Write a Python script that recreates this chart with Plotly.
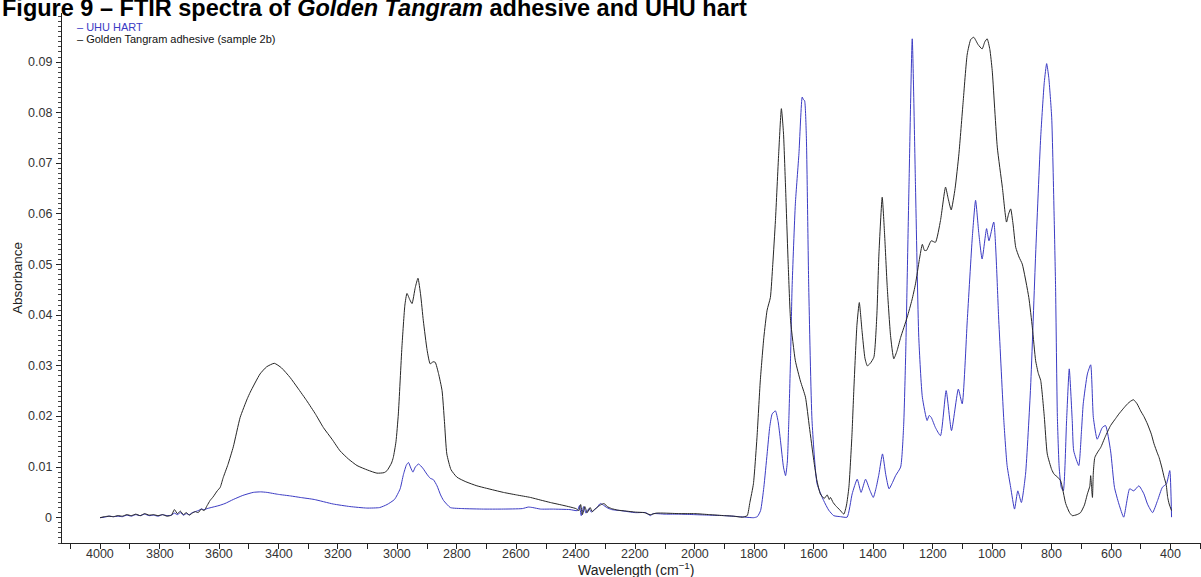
import plotly.graph_objects as go

# FTIR absorbance spectra: wavenumber (cm-1) and absorbance for each sample
uhu_wn = [4000, 3985, 3970, 3955, 3940, 3925, 3910, 3895, 3880, 3865, 3850, 3835, 3820, 3805,
          3790, 3775, 3760, 3750, 3740, 3730, 3720, 3710, 3700, 3690, 3680, 3670, 3660, 3650,
          3640, 3620, 3600, 3580, 3552, 3520, 3485, 3460, 3439, 3400, 3360, 3327, 3280, 3216,
          3160, 3103, 3060, 3035, 3010, 2991, 2980, 2970, 2963, 2955, 2948, 2940, 2929, 2915,
          2901, 2890, 2879, 2867, 2855, 2845, 2822, 2780, 2711, 2650, 2580, 2560, 2545, 2519,
          2480, 2420, 2395, 2388, 2382, 2374, 2366, 2356, 2348, 2338, 2328, 2318, 2308, 2296,
          2280, 2250, 2200, 2165, 2150, 2140, 2100, 2050, 2000, 1950, 1900, 1850, 1802, 1790,
          1779, 1768, 1757, 1748, 1740, 1729, 1720, 1712, 1702, 1695, 1689, 1684, 1678, 1673,
          1662, 1650, 1639, 1635, 1631, 1625, 1617, 1606, 1589, 1567, 1550, 1533, 1510, 1488,
          1471, 1454, 1441, 1426, 1412, 1400, 1390, 1381, 1369, 1358, 1347, 1335, 1325, 1308,
          1298, 1291, 1280, 1269, 1258, 1247, 1235, 1219, 1212, 1205, 1191, 1174, 1155, 1137,
          1114, 1101, 1084, 1067, 1056, 1045, 1034, 1019, 1011, 995, 978, 961, 950, 938, 925,
          914, 902, 888, 871, 854, 837, 825, 817, 810, 800, 792, 787, 781, 775, 768, 761, 750,
          741, 731, 726, 709, 700, 694, 680, 669, 660, 647, 630, 619, 602, 589, 574, 558, 538,
          524, 507, 490, 478, 461, 444, 428, 414, 403, 397]
uhu_abs = [0.0000, 0.0001, 0.0003, 0.0002, 0.0003, 0.0002, 0.0005, 0.0003, 0.0006, 0.0004,
           0.0007, 0.0004, 0.0005, 0.0003, 0.0006, 0.0004, 0.0005, 0.0009, 0.0006, 0.0010,
           0.0005, 0.0008, 0.0006, 0.0010, 0.0012, 0.0014, 0.0017, 0.0016, 0.0018, 0.0021,
           0.0024, 0.0028, 0.0036, 0.0044, 0.0050, 0.0051, 0.0050, 0.0046, 0.0043, 0.0040,
           0.0036, 0.0027, 0.0022, 0.0019, 0.0020, 0.0026, 0.0036, 0.0057, 0.0085, 0.0104,
           0.0109, 0.0098, 0.0090, 0.0100, 0.0106, 0.0098, 0.0086, 0.0078, 0.0075, 0.0063,
           0.0045, 0.0034, 0.0020, 0.0018, 0.0017, 0.0017, 0.0018, 0.0021, 0.0020, 0.0017,
           0.0017, 0.0016, 0.0014, 0.0024, 0.0004, 0.0022, 0.0009, 0.0018, 0.0011, 0.0016,
           0.0021, 0.0028, 0.0025, 0.0020, 0.0016, 0.0014, 0.0010, 0.0010, 0.0004, 0.0008,
           0.0007, 0.0007, 0.0006, 0.0005, 0.0004, 0.0002, 0.0000, 0.0002, 0.0014, 0.0060,
           0.0126, 0.0180, 0.0205, 0.0211, 0.0190, 0.0152, 0.0100, 0.0083, 0.0110, 0.0192,
           0.0320, 0.0455, 0.0620, 0.0719, 0.0831, 0.0826, 0.0824, 0.0752, 0.0455, 0.0192,
           0.0067, 0.0034, 0.0015, 0.0004, 0.0002, 0.0001, 0.0047, 0.0076, 0.0050, 0.0076,
           0.0055, 0.0040, 0.0060, 0.0086, 0.0126, 0.0085, 0.0057, 0.0070, 0.0083, 0.0100,
           0.0180, 0.0323, 0.0653, 0.0946, 0.0653, 0.0356, 0.0238, 0.0192, 0.0202, 0.0198,
           0.0178, 0.0162, 0.0251, 0.0172, 0.0254, 0.0225, 0.0389, 0.0554, 0.0627, 0.0561,
           0.0511, 0.0571, 0.0547, 0.0584, 0.0389, 0.0192, 0.0103, 0.0060, 0.0017, 0.0053,
           0.0030, 0.0086, 0.0258, 0.0521, 0.0752, 0.0860, 0.0897, 0.0870, 0.0790, 0.0600,
           0.0455, 0.0200, 0.0100, 0.0060, 0.0053, 0.0192, 0.0294, 0.0192, 0.0132, 0.0103,
           0.0170, 0.0225, 0.0284, 0.0302, 0.0198, 0.0155, 0.0178, 0.0182, 0.0132, 0.0060,
           0.0027, 0.0001, 0.0057, 0.0053, 0.0063, 0.0047, 0.0027, 0.0010, 0.0034, 0.0060,
           0.0067, 0.0093, 0.0001]

gt_wn = [4000, 3985, 3970, 3955, 3940, 3925, 3910, 3895, 3880, 3865, 3850, 3835, 3820, 3805,
         3790, 3775, 3760, 3750, 3740, 3730, 3720, 3710, 3700, 3690, 3680, 3670, 3660, 3650,
         3640, 3630, 3620, 3606, 3596, 3586, 3570, 3552, 3529, 3505, 3495, 3462, 3440, 3414,
         3390, 3361, 3335, 3305, 3275, 3249, 3220, 3193, 3165, 3136, 3100, 3069, 3045, 3035,
         3020, 3014, 3005, 2997, 2985, 2975, 2968, 2958, 2951, 2940, 2931, 2922, 2913, 2900,
         2890, 2880, 2873, 2862, 2850, 2842, 2834, 2820, 2800, 2770, 2733, 2700, 2644, 2600,
         2553, 2520, 2486, 2440, 2400, 2390, 2384, 2378, 2370, 2362, 2352, 2345, 2335, 2325,
         2315, 2305, 2295, 2280, 2260, 2230, 2200, 2170, 2150, 2130, 2100, 2050, 2000, 1950,
         1900, 1870, 1841, 1824, 1815, 1803, 1791, 1780, 1768, 1757, 1746, 1738, 1729, 1718,
         1709, 1702, 1695, 1686, 1678, 1662, 1645, 1628, 1615, 1600, 1590, 1578, 1565, 1555,
         1548, 1544, 1535, 1527, 1512, 1499, 1490, 1482, 1472, 1465, 1455, 1447, 1438, 1428,
         1420, 1410, 1398, 1388, 1381, 1370, 1362, 1353, 1342, 1331, 1320, 1308, 1286, 1270,
         1258, 1245, 1235, 1228, 1221, 1205, 1191, 1174, 1157, 1148, 1138, 1125, 1112, 1098,
         1084, 1072, 1062, 1048, 1034, 1025, 1017, 1008, 1000, 983, 966, 952, 945, 938, 930,
         921, 910, 899, 877, 865, 854, 845, 837, 825, 815, 800, 792, 780, 770, 753, 740, 731,
         715, 703, 690, 680, 672, 669, 666, 663, 660, 655, 645, 635, 620, 602, 585, 574, 560,
         545, 535, 525, 513, 501, 490, 478, 465, 456, 445, 439, 430, 422, 415, 410, 405, 397]
gt_abs = [0.0000, 0.0002, 0.0003, 0.0002, 0.0004, 0.0003, 0.0006, 0.0004, 0.0007, 0.0004,
          0.0008, 0.0005, 0.0006, 0.0004, 0.0006, 0.0003, 0.0005, 0.0016, 0.0008, 0.0013,
          0.0006, 0.0010, 0.0005, 0.0009, 0.0012, 0.0010, 0.0017, 0.0014, 0.0024, 0.0034,
          0.0041, 0.0053, 0.0060, 0.0079, 0.0105, 0.0140, 0.0198, 0.0235, 0.0248, 0.0284,
          0.0298, 0.0305, 0.0296, 0.0277, 0.0256, 0.0231, 0.0204, 0.0178, 0.0155, 0.0132,
          0.0116, 0.0103, 0.0094, 0.0088, 0.0089, 0.0093, 0.0108, 0.0119, 0.0150, 0.0205,
          0.0337, 0.0420, 0.0443, 0.0430, 0.0423, 0.0455, 0.0473, 0.0440, 0.0389, 0.0330,
          0.0304, 0.0308, 0.0307, 0.0285, 0.0251, 0.0190, 0.0126, 0.0095, 0.0080, 0.0071,
          0.0063, 0.0058, 0.0050, 0.0045, 0.0040, 0.0035, 0.0030, 0.0024, 0.0018, 0.0014,
          0.0026, 0.0006, 0.0022, 0.0010, 0.0020, 0.0012, 0.0017, 0.0022, 0.0026, 0.0028,
          0.0022, 0.0018, 0.0015, 0.0013, 0.0011, 0.0010, 0.0006, 0.0009, 0.0009, 0.0008,
          0.0008, 0.0006, 0.0004, 0.0003, 0.0001, 0.0004, 0.0030, 0.0067, 0.0159, 0.0270,
          0.0356, 0.0410, 0.0435, 0.0500, 0.0587, 0.0720, 0.0808, 0.0760, 0.0653, 0.0500,
          0.0389, 0.0310, 0.0270, 0.0238, 0.0180, 0.0113, 0.0075, 0.0047, 0.0038, 0.0045,
          0.0036, 0.0040, 0.0030, 0.0024, 0.0015, 0.0007, 0.0025, 0.0060, 0.0160, 0.0258,
          0.0380, 0.0425, 0.0370, 0.0315, 0.0300, 0.0305, 0.0317, 0.0400, 0.0521, 0.0633,
          0.0560, 0.0455, 0.0360, 0.0314, 0.0330, 0.0356, 0.0396, 0.0430, 0.0462, 0.0510,
          0.0540, 0.0528, 0.0528, 0.0547, 0.0544, 0.0587, 0.0653, 0.0630, 0.0608, 0.0650,
          0.0719, 0.0820, 0.0916, 0.0945, 0.0949, 0.0935, 0.0926, 0.0940, 0.0946, 0.0925,
          0.0883, 0.0732, 0.0653, 0.0584, 0.0600, 0.0610, 0.0580, 0.0534, 0.0515, 0.0501,
          0.0435, 0.0375, 0.0310, 0.0285, 0.0271, 0.0200, 0.0126, 0.0095, 0.0086, 0.0080,
          0.0073, 0.0028, 0.0010, 0.0004, 0.0006, 0.0010, 0.0025, 0.0047, 0.0062, 0.0083,
          0.0060, 0.0040, 0.0090, 0.0119, 0.0130, 0.0139, 0.0160, 0.0182, 0.0196, 0.0205,
          0.0215, 0.0225, 0.0230, 0.0233, 0.0225, 0.0211, 0.0200, 0.0185, 0.0165, 0.0146,
          0.0128, 0.0119, 0.0100, 0.0080, 0.0065, 0.0040, 0.0027, 0.0014]

# axis tick labels
x_tick_vals = [4000, 3800, 3600, 3400, 3200, 3000, 2800, 2600, 2400, 2200, 2000,
               1800, 1600, 1400, 1200, 1000, 800, 600, 400]
y_tick_vals = [0, 0.01, 0.02, 0.03, 0.04, 0.05, 0.06, 0.07, 0.08, 0.09]
y_tick_text = ["0", "0.01", "0.02", "0.03", "0.04", "0.05", "0.06", "0.07", "0.08", "0.09"]

UHU_COLOR = "#3b3bc4"
GT_COLOR = "#262626"
FONT = "Liberation Sans, Arial, sans-serif"
TICK_FONT = dict(family=FONT, size=12.5, color="#333333")

fig = go.Figure()
fig.add_trace(go.Scatter(x=uhu_wn, y=uhu_abs, mode="lines", name="UHU HART",
                         line=dict(color=UHU_COLOR, width=1, shape="spline", smoothing=0.5)))
fig.add_trace(go.Scatter(x=gt_wn, y=gt_abs, mode="lines", name="Golden Tangram adhesive (sample 2b)",
                         line=dict(color=GT_COLOR, width=1, shape="spline", smoothing=0.5)))

L, T, B = 62, 13, 34
W, H = 1201, 577
pw, ph = W - L, H - T - B


def px_x(p):
    return (p - L) / pw


def px_y(p):
    return (H - B - p) / ph


annotations = [
    dict(text="<b>Figure 9 – FTIR spectra of <i>Golden Tangram</i> adhesive and UHU hart</b>",
         xref="paper", yref="paper", x=px_x(0), y=px_y(7.5), xanchor="left", yanchor="middle",
         showarrow=False, font=dict(family=FONT, size=23.5, color="#000000")),
    dict(text="– UHU HART", xref="paper", yref="paper", x=px_x(75), y=px_y(27),
         xanchor="left", yanchor="middle", showarrow=False,
         font=dict(family=FONT, size=11, color=UHU_COLOR)),
    dict(text="– Golden Tangram adhesive (sample 2b)", xref="paper", yref="paper",
         x=px_x(75), y=px_y(39), xanchor="left", yanchor="middle", showarrow=False,
         font=dict(family=FONT, size=11, color="#111111")),
    dict(text="Absorbance", xref="paper", yref="paper", x=px_x(17), y=0.5, textangle=-90,
         xanchor="center", yanchor="middle", showarrow=False,
         font=dict(family=FONT, size=13.5, color="#222222")),
    dict(text="Wavelength (cm<sup>−1</sup>)", xref="paper", yref="paper", x=px_x(636),
         y=px_y(569), xanchor="center", yanchor="middle", showarrow=False,
         font=dict(family=FONT, size=14, color="#222222")),
]
for v in x_tick_vals:
    annotations.append(dict(text=str(v), xref="x", yref="paper", x=v, y=px_y(553.5),
                            xanchor="center", yanchor="middle", showarrow=False,
                            font=TICK_FONT))
for v, t in zip(y_tick_vals, y_tick_text):
    annotations.append(dict(text=t, xref="paper", yref="y", x=px_x(54), y=v,
                            xanchor="right", yanchor="middle", showarrow=False,
                            font=TICK_FONT))

fig.update_layout(
    width=W, height=H,
    margin=dict(l=L, r=0, t=T, b=B),
    paper_bgcolor="white", plot_bgcolor="white",
    showlegend=False,
    font=dict(family=FONT, size=12, color="#333333"),
    annotations=annotations,
    xaxis=dict(range=[4128, 298], showgrid=False, zeroline=False, showticklabels=False,
               showline=True, linecolor="#222222", linewidth=1,
               tick0=0, dtick=200, ticks="outside", ticklen=5, tickcolor="#222222",
               minor=dict(dtick=100, ticks="outside", ticklen=5, tickcolor="#222222")),
    yaxis=dict(range=[-0.005, 0.0997], showgrid=False, zeroline=False, showticklabels=False,
               showline=True, linecolor="#222222", linewidth=1,
               tick0=0, dtick=0.01, ticks="outside", ticklen=5, tickcolor="#222222",
               minor=dict(dtick=0.001, ticks="outside", ticklen=3, tickcolor="#444444")),
)

fig.write_html("out.html")
